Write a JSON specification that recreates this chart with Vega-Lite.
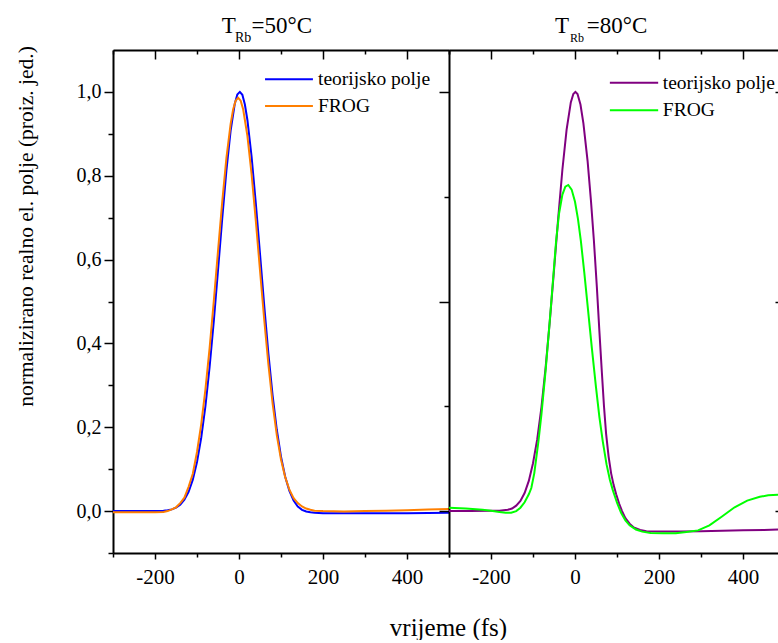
{
  "$schema": "https://vega.github.io/schema/vega-lite/v6.json",
  "autosize": {"type": "pad"},
  "padding": {"left": 14, "top": 14, "right": 0, "bottom": 0},
  "background": "white",
  "spacing": 0,
  "bounds": "flush",
  "resolve": {"scale": {"color": "independent", "x": "independent", "y": "independent"}},
  "config": {
    "font": "Liberation Serif",
    "view": {"stroke": null},
    "axis": {"grid": false, "domain": true, "domainColor": "black", "domainWidth": 2, "tickColor": "black", "tickWidth": 1.5, "labelColor": "black", "titleColor": "black", "labelFont": "Liberation Serif", "titleFont": "Liberation Serif", "titleFontWeight": "normal"},
    "text": {"font": "Liberation Serif", "color": "black"}
  },
  "datasets": {
    "left": [
      {"s": "teorijsko polje", "t": -300, "v": 0}, {"s": "teorijsko polje", "t": -250, "v": 0}, {"s": "teorijsko polje", "t": -200, "v": 0}, {"s": "teorijsko polje", "t": -180, "v": 0.001}, {"s": "teorijsko polje", "t": -170, "v": 0.002}, {"s": "teorijsko polje", "t": -160, "v": 0.004}, {"s": "teorijsko polje", "t": -150, "v": 0.008}, {"s": "teorijsko polje", "t": -140, "v": 0.015}, {"s": "teorijsko polje", "t": -130, "v": 0.027}, {"s": "teorijsko polje", "t": -120, "v": 0.046}, {"s": "teorijsko polje", "t": -110, "v": 0.075}, {"s": "teorijsko polje", "t": -100, "v": 0.117}, {"s": "teorijsko polje", "t": -90, "v": 0.175}, {"s": "teorijsko polje", "t": -80, "v": 0.25}, {"s": "teorijsko polje", "t": -70, "v": 0.344}, {"s": "teorijsko polje", "t": -60, "v": 0.453}, {"s": "teorijsko polje", "t": -50, "v": 0.574}, {"s": "teorijsko polje", "t": -40, "v": 0.697}, {"s": "teorijsko polje", "t": -30, "v": 0.812}, {"s": "teorijsko polje", "t": -20, "v": 0.907}, {"s": "teorijsko polje", "t": -10, "v": 0.972}, {"s": "teorijsko polje", "t": -4, "v": 0.994}, {"s": "teorijsko polje", "t": 2, "v": 1.0}, {"s": "teorijsko polje", "t": 8, "v": 0.993}, {"s": "teorijsko polje", "t": 14, "v": 0.97}, {"s": "teorijsko polje", "t": 20, "v": 0.933}, {"s": "teorijsko polje", "t": 30, "v": 0.845}, {"s": "teorijsko polje", "t": 40, "v": 0.735}, {"s": "teorijsko polje", "t": 50, "v": 0.614}, {"s": "teorijsko polje", "t": 60, "v": 0.491}, {"s": "teorijsko polje", "t": 70, "v": 0.376}, {"s": "teorijsko polje", "t": 80, "v": 0.276}, {"s": "teorijsko polje", "t": 90, "v": 0.194}, {"s": "teorijsko polje", "t": 100, "v": 0.13}, {"s": "teorijsko polje", "t": 110, "v": 0.082}, {"s": "teorijsko polje", "t": 120, "v": 0.048}, {"s": "teorijsko polje", "t": 130, "v": 0.025}, {"s": "teorijsko polje", "t": 140, "v": 0.011}, {"s": "teorijsko polje", "t": 150, "v": 0.003}, {"s": "teorijsko polje", "t": 160, "v": -0.001}, {"s": "teorijsko polje", "t": 170, "v": -0.003}, {"s": "teorijsko polje", "t": 180, "v": -0.004}, {"s": "teorijsko polje", "t": 200, "v": -0.005}, {"s": "teorijsko polje", "t": 300, "v": -0.005}, {"s": "teorijsko polje", "t": 400, "v": -0.005}, {"s": "teorijsko polje", "t": 500, "v": -0.004},
      {"s": "FROG", "t": -300, "v": -0.003}, {"s": "FROG", "t": -250, "v": -0.003}, {"s": "FROG", "t": -200, "v": -0.003}, {"s": "FROG", "t": -180, "v": -0.002}, {"s": "FROG", "t": -170, "v": 0.0}, {"s": "FROG", "t": -160, "v": 0.004}, {"s": "FROG", "t": -150, "v": 0.009}, {"s": "FROG", "t": -140, "v": 0.019}, {"s": "FROG", "t": -130, "v": 0.032}, {"s": "FROG", "t": -120, "v": 0.058}, {"s": "FROG", "t": -110, "v": 0.089}, {"s": "FROG", "t": -100, "v": 0.141}, {"s": "FROG", "t": -90, "v": 0.207}, {"s": "FROG", "t": -80, "v": 0.29}, {"s": "FROG", "t": -70, "v": 0.389}, {"s": "FROG", "t": -60, "v": 0.501}, {"s": "FROG", "t": -50, "v": 0.62}, {"s": "FROG", "t": -40, "v": 0.737}, {"s": "FROG", "t": -30, "v": 0.842}, {"s": "FROG", "t": -20, "v": 0.923}, {"s": "FROG", "t": -14, "v": 0.958}, {"s": "FROG", "t": -8, "v": 0.979}, {"s": "FROG", "t": -2, "v": 0.986}, {"s": "FROG", "t": 4, "v": 0.979}, {"s": "FROG", "t": 10, "v": 0.958}, {"s": "FROG", "t": 20, "v": 0.895}, {"s": "FROG", "t": 30, "v": 0.803}, {"s": "FROG", "t": 40, "v": 0.693}, {"s": "FROG", "t": 50, "v": 0.574}, {"s": "FROG", "t": 60, "v": 0.457}, {"s": "FROG", "t": 70, "v": 0.35}, {"s": "FROG", "t": 80, "v": 0.257}, {"s": "FROG", "t": 90, "v": 0.181}, {"s": "FROG", "t": 100, "v": 0.123}, {"s": "FROG", "t": 110, "v": 0.081}, {"s": "FROG", "t": 120, "v": 0.051}, {"s": "FROG", "t": 130, "v": 0.031}, {"s": "FROG", "t": 140, "v": 0.019}, {"s": "FROG", "t": 150, "v": 0.011}, {"s": "FROG", "t": 160, "v": 0.006}, {"s": "FROG", "t": 170, "v": 0.003}, {"s": "FROG", "t": 180, "v": 0.001}, {"s": "FROG", "t": 200, "v": 0.0}, {"s": "FROG", "t": 250, "v": -0.001}, {"s": "FROG", "t": 300, "v": 0.0}, {"s": "FROG", "t": 350, "v": 0.001}, {"s": "FROG", "t": 400, "v": 0.002}, {"s": "FROG", "t": 450, "v": 0.004}, {"s": "FROG", "t": 500, "v": 0.005}
    ],
    "right": [
      {"s": "teorijsko polje", "t": -300, "v": 0}, {"s": "teorijsko polje", "t": -250, "v": 0}, {"s": "teorijsko polje", "t": -200, "v": 0.001}, {"s": "teorijsko polje", "t": -180, "v": 0.001}, {"s": "teorijsko polje", "t": -160, "v": 0.003}, {"s": "teorijsko polje", "t": -150, "v": 0.006}, {"s": "teorijsko polje", "t": -140, "v": 0.013}, {"s": "teorijsko polje", "t": -130, "v": 0.024}, {"s": "teorijsko polje", "t": -120, "v": 0.043}, {"s": "teorijsko polje", "t": -110, "v": 0.072}, {"s": "teorijsko polje", "t": -100, "v": 0.114}, {"s": "teorijsko polje", "t": -90, "v": 0.171}, {"s": "teorijsko polje", "t": -80, "v": 0.247}, {"s": "teorijsko polje", "t": -70, "v": 0.342}, {"s": "teorijsko polje", "t": -60, "v": 0.453}, {"s": "teorijsko polje", "t": -50, "v": 0.575}, {"s": "teorijsko polje", "t": -40, "v": 0.699}, {"s": "teorijsko polje", "t": -30, "v": 0.815}, {"s": "teorijsko polje", "t": -20, "v": 0.91}, {"s": "teorijsko polje", "t": -10, "v": 0.975}, {"s": "teorijsko polje", "t": -4, "v": 0.995}, {"s": "teorijsko polje", "t": 1, "v": 1.0}, {"s": "teorijsko polje", "t": 6, "v": 0.995}, {"s": "teorijsko polje", "t": 13, "v": 0.97}, {"s": "teorijsko polje", "t": 20, "v": 0.925}, {"s": "teorijsko polje", "t": 30, "v": 0.835}, {"s": "teorijsko polje", "t": 38, "v": 0.74}, {"s": "teorijsko polje", "t": 45, "v": 0.645}, {"s": "teorijsko polje", "t": 52, "v": 0.535}, {"s": "teorijsko polje", "t": 58, "v": 0.43}, {"s": "teorijsko polje", "t": 64, "v": 0.33}, {"s": "teorijsko polje", "t": 69, "v": 0.25}, {"s": "teorijsko polje", "t": 74, "v": 0.185}, {"s": "teorijsko polje", "t": 80, "v": 0.13}, {"s": "teorijsko polje", "t": 86, "v": 0.09}, {"s": "teorijsko polje", "t": 92, "v": 0.062}, {"s": "teorijsko polje", "t": 98, "v": 0.04}, {"s": "teorijsko polje", "t": 105, "v": 0.018}, {"s": "teorijsko polje", "t": 112, "v": 0.0}, {"s": "teorijsko polje", "t": 120, "v": -0.017}, {"s": "teorijsko polje", "t": 130, "v": -0.03}, {"s": "teorijsko polje", "t": 140, "v": -0.039}, {"s": "teorijsko polje", "t": 155, "v": -0.045}, {"s": "teorijsko polje", "t": 170, "v": -0.048}, {"s": "teorijsko polje", "t": 200, "v": -0.049}, {"s": "teorijsko polje", "t": 250, "v": -0.049}, {"s": "teorijsko polje", "t": 300, "v": -0.048}, {"s": "teorijsko polje", "t": 350, "v": -0.047}, {"s": "teorijsko polje", "t": 400, "v": -0.046}, {"s": "teorijsko polje", "t": 450, "v": -0.045}, {"s": "teorijsko polje", "t": 483.3, "v": -0.044},
      {"s": "FROG", "t": -300, "v": 0.008}, {"s": "FROG", "t": -260, "v": 0.006}, {"s": "FROG", "t": -220, "v": 0.003}, {"s": "FROG", "t": -200, "v": 0.001}, {"s": "FROG", "t": -180, "v": -0.002}, {"s": "FROG", "t": -165, "v": -0.004}, {"s": "FROG", "t": -152, "v": -0.004}, {"s": "FROG", "t": -140, "v": 0.0}, {"s": "FROG", "t": -130, "v": 0.008}, {"s": "FROG", "t": -120, "v": 0.021}, {"s": "FROG", "t": -110, "v": 0.04}, {"s": "FROG", "t": -104, "v": 0.055}, {"s": "FROG", "t": -97, "v": 0.09}, {"s": "FROG", "t": -87, "v": 0.167}, {"s": "FROG", "t": -80, "v": 0.23}, {"s": "FROG", "t": -70, "v": 0.335}, {"s": "FROG", "t": -60, "v": 0.455}, {"s": "FROG", "t": -52, "v": 0.555}, {"s": "FROG", "t": -45, "v": 0.644}, {"s": "FROG", "t": -38, "v": 0.71}, {"s": "FROG", "t": -30, "v": 0.755}, {"s": "FROG", "t": -23, "v": 0.774}, {"s": "FROG", "t": -16, "v": 0.778}, {"s": "FROG", "t": -8, "v": 0.767}, {"s": "FROG", "t": 0, "v": 0.738}, {"s": "FROG", "t": 7, "v": 0.697}, {"s": "FROG", "t": 14, "v": 0.644}, {"s": "FROG", "t": 22, "v": 0.57}, {"s": "FROG", "t": 30, "v": 0.49}, {"s": "FROG", "t": 40, "v": 0.39}, {"s": "FROG", "t": 50, "v": 0.295}, {"s": "FROG", "t": 58, "v": 0.225}, {"s": "FROG", "t": 66, "v": 0.167}, {"s": "FROG", "t": 75, "v": 0.112}, {"s": "FROG", "t": 83, "v": 0.075}, {"s": "FROG", "t": 90, "v": 0.05}, {"s": "FROG", "t": 100, "v": 0.02}, {"s": "FROG", "t": 110, "v": -0.005}, {"s": "FROG", "t": 120, "v": -0.022}, {"s": "FROG", "t": 130, "v": -0.034}, {"s": "FROG", "t": 145, "v": -0.044}, {"s": "FROG", "t": 160, "v": -0.049}, {"s": "FROG", "t": 180, "v": -0.052}, {"s": "FROG", "t": 210, "v": -0.053}, {"s": "FROG", "t": 240, "v": -0.053}, {"s": "FROG", "t": 265, "v": -0.05}, {"s": "FROG", "t": 293, "v": -0.046}, {"s": "FROG", "t": 320, "v": -0.034}, {"s": "FROG", "t": 350, "v": -0.013}, {"s": "FROG", "t": 380, "v": 0.009}, {"s": "FROG", "t": 410, "v": 0.025}, {"s": "FROG", "t": 440, "v": 0.034}, {"s": "FROG", "t": 460, "v": 0.038}, {"s": "FROG", "t": 483.3, "v": 0.039}
    ]
  },
  "hconcat": [
    {
      "width": 336,
      "height": 503,
      "layer": [
        {
          "data": {"name": "left"},
          "mark": {"type": "line", "strokeWidth": 2},
          "encoding": {
            "x": {"field": "t", "type": "quantitative", "scale": {"domain": [-300, 500], "nice": false, "zero": false},
              "axis": {"orient": "bottom", "values": [-300, -200, -100, 0, 100, 200, 300, 400, 500],
                "tickSize": {"condition": {"test": "datum.value % 200 === 0", "value": 6}, "value": 4},
                "labelExpr": "datum.value % 200 === 0 ? '' + datum.value : ''",
                "labelFontSize": 21, "labelPadding": 7,
                "title": "vrijeme (fs)", "titleFontSize": 25, "titleX": 335, "titleY": 82, "titleAlign": "center", "titleBaseline": "alphabetic"}},
            "y": {"field": "v", "type": "quantitative", "scale": {"domain": [-0.1, 1.1], "nice": false, "zero": false},
              "axis": {"orient": "left", "values": [-0.1, 0, 0.1, 0.2, 0.3, 0.4, 0.5, 0.6, 0.7, 0.8, 0.9, 1.0],
                "tickSize": {"condition": {"test": "round(datum.value * 10) % 2 === 0", "value": 9}, "value": 5},
                "labelExpr": "round(datum.value * 10) % 2 === 0 && datum.value > -0.05 ? replace(format(datum.value, '.1f'), '.', ',') : ''",
                "labelFontSize": 20, "labelPadding": 3,
                "title": "normalizirano realno el. polje (proiz. jed.)", "titleFontSize": 21.5, "titleX": -81, "titleY": 176, "titleAngle": -90, "titleAlign": "center", "titleBaseline": "alphabetic"}},
            "color": {"field": "s", "type": "nominal", "scale": {"domain": ["teorijsko polje", "FROG"], "range": ["#0000ff", "#ff7f00"]}, "legend": null}
          }
        },
        {
          "data": {"values": [{}]},
          "mark": {"type": "rule", "strokeWidth": 2, "color": "#0000ff"},
          "encoding": {
            "x": {"datum": 62, "type": "quantitative", "scale": {"domain": [-300, 500], "nice": false, "zero": false},
              "axis": {"orient": "top", "values": [-300, -200, -100, 0, 100, 200, 300, 400, 500],
                "tickSize": {"condition": {"test": "datum.value % 200 === 0", "value": -9}, "value": -4},
                "labels": false, "title": null}},
            "x2": {"datum": 176},
            "y": {"datum": 1.03, "type": "quantitative", "scale": {"domain": [-0.1, 1.1], "nice": false, "zero": false}}
          }
        },
        {
          "data": {"values": [{}]},
          "mark": {"type": "rule", "strokeWidth": 2, "color": "#ff7f00"},
          "encoding": {
            "x": {"datum": 62, "type": "quantitative", "axis": null},
            "x2": {"datum": 176},
            "y": {"datum": 0.9665, "type": "quantitative"}
          }
        },
        {
          "data": {"values": [{}]},
          "mark": {"type": "text", "text": "teorijsko polje", "fontSize": 19.5, "align": "left", "baseline": "alphabetic"},
          "encoding": {"x": {"datum": 188, "type": "quantitative", "axis": null}, "y": {"datum": 1.0165, "type": "quantitative"}}
        },
        {
          "data": {"values": [{}]},
          "mark": {"type": "text", "text": "FROG", "fontSize": 19.5, "align": "left", "baseline": "alphabetic"},
          "encoding": {"x": {"datum": 188, "type": "quantitative", "axis": null}, "y": {"datum": 0.953, "type": "quantitative"}}
        },
        {
          "data": {"values": [{}]},
          "mark": {"type": "text", "text": "T", "fontSize": 23, "align": "left", "baseline": "alphabetic"},
          "encoding": {"x": {"datum": -41, "type": "quantitative", "axis": null}, "y": {"datum": 1.1413, "type": "quantitative"}}
        },
        {
          "data": {"values": [{}]},
          "mark": {"type": "text", "text": "Rb", "fontSize": 14, "align": "left", "baseline": "alphabetic"},
          "encoding": {"x": {"datum": -9.5, "type": "quantitative", "axis": null}, "y": {"datum": 1.1198, "type": "quantitative"}}
        },
        {
          "data": {"values": [{}]},
          "mark": {"type": "text", "text": "=50°C", "fontSize": 23, "align": "left", "baseline": "alphabetic"},
          "encoding": {"x": {"datum": 30, "type": "quantitative", "axis": null}, "y": {"datum": 1.1413, "type": "quantitative"}}
        }
      ]
    },
    {
      "width": 329,
      "height": 503,
      "layer": [
        {
          "data": {"name": "right"},
          "mark": {"type": "line", "strokeWidth": 2},
          "encoding": {
            "x": {"field": "t", "type": "quantitative", "scale": {"domain": [-300, 483.3], "nice": false, "zero": false},
              "axis": {"orient": "bottom", "values": [-300, -200, -100, 0, 100, 200, 300, 400],
                "tickSize": {"condition": {"test": "datum.value % 200 === 0", "value": 6}, "value": 4},
                "labelExpr": "datum.value % 200 === 0 ? '' + datum.value : ''",
                "labelFontSize": 21, "labelPadding": 7, "title": null}},
            "y": {"field": "v", "type": "quantitative", "scale": {"domain": [-0.1, 1.1], "nice": false, "zero": false},
              "axis": {"orient": "left", "values": [0, 0.25, 0.5, 0.75, 1.0],
                "tickSize": {"condition": {"test": "(datum.value * 2) % 1 === 0", "value": 10}, "value": 5},
                "labels": false, "title": null}},
            "color": {"field": "s", "type": "nominal", "scale": {"domain": ["teorijsko polje", "FROG"], "range": ["#800080", "#00ff00"]}, "legend": null}
          }
        },
        {
          "data": {"values": [{}]},
          "mark": {"type": "rule", "strokeWidth": 2, "color": "#800080"},
          "encoding": {
            "x": {"datum": 83, "type": "quantitative", "scale": {"domain": [-300, 483.3], "nice": false, "zero": false},
              "axis": {"orient": "top", "values": [-300, -200, -100, 0, 100, 200, 300, 400],
                "tickSize": {"condition": {"test": "datum.value % 200 === 0", "value": -9}, "value": -4},
                "labels": false, "title": null}},
            "x2": {"datum": 198},
            "y": {"datum": 1.022, "type": "quantitative", "scale": {"domain": [-0.1, 1.1], "nice": false, "zero": false},
              "axis": {"orient": "right", "values": [0, 0.5, 1.0], "tickSize": -3, "domain": false, "labels": false, "title": null}}
          }
        },
        {
          "data": {"values": [{}]},
          "mark": {"type": "rule", "strokeWidth": 2, "color": "#00ff00"},
          "encoding": {
            "x": {"datum": 83, "type": "quantitative", "axis": null},
            "x2": {"datum": 198},
            "y": {"datum": 0.956, "type": "quantitative", "axis": null}
          }
        },
        {
          "data": {"values": [{}]},
          "mark": {"type": "text", "text": "teorijsko polje", "fontSize": 19.5, "align": "left", "baseline": "alphabetic"},
          "encoding": {"x": {"datum": 209, "type": "quantitative", "axis": null}, "y": {"datum": 1.008, "type": "quantitative", "axis": null}}
        },
        {
          "data": {"values": [{}]},
          "mark": {"type": "text", "text": "FROG", "fontSize": 19.5, "align": "left", "baseline": "alphabetic"},
          "encoding": {"x": {"datum": 209, "type": "quantitative", "axis": null}, "y": {"datum": 0.943, "type": "quantitative", "axis": null}}
        },
        {
          "data": {"values": [{}]},
          "mark": {"type": "text", "text": "T", "fontSize": 23, "align": "left", "baseline": "alphabetic"},
          "encoding": {"x": {"datum": -47.6, "type": "quantitative", "axis": null}, "y": {"datum": 1.1413, "type": "quantitative", "axis": null}}
        },
        {
          "data": {"values": [{}]},
          "mark": {"type": "text", "text": "Rb", "fontSize": 12, "align": "left", "baseline": "alphabetic"},
          "encoding": {"x": {"datum": -12, "type": "quantitative", "axis": null}, "y": {"datum": 1.1198, "type": "quantitative", "axis": null}}
        },
        {
          "data": {"values": [{}]},
          "mark": {"type": "text", "text": "=80°C", "fontSize": 23, "align": "left", "baseline": "alphabetic"},
          "encoding": {"x": {"datum": 28, "type": "quantitative", "axis": null}, "y": {"datum": 1.1413, "type": "quantitative", "axis": null}}
        }
      ]
    }
  ]
}
